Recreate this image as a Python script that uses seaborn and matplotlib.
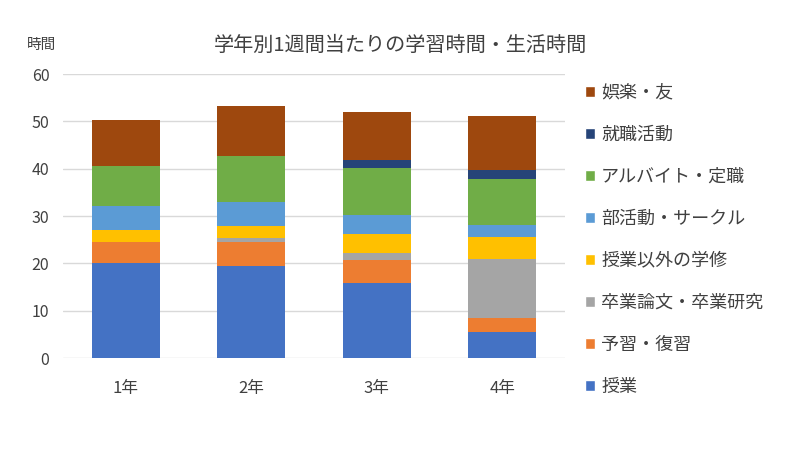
import numpy as np
import pandas as pd
import seaborn as sns
import matplotlib.pyplot as plt
from matplotlib.patches import Patch

# data (hours per week)
grades = ['1年', '2年', '3年', '4年']
jugyo = [20.0, 19.5, 15.8, 5.6]          # 授業
yoshu = [4.6, 5.1, 5.0, 2.9]             # 予習・復習
sotsuron = [0.0, 0.7, 1.3, 12.4]         # 卒業論文・卒業研究
gakushu = [2.4, 2.7, 4.1, 4.7]           # 授業以外の学修
bukatsu = [5.2, 4.9, 4.1, 2.6]           # 部活動・サークル
baito = [8.4, 9.7, 9.9, 9.7]             # アルバイト・定職
shushoku = [0.0, 0.0, 1.7, 1.8]          # 就職活動
goraku = [9.8, 10.6, 10.0, 11.5]         # 娯楽・友

categories = ['授業', '予習・復習', '卒業論文・卒業研究', '授業以外の学修',
              '部活動・サークル', 'アルバイト・定職', '就職活動', '娯楽・友']
colors = ['#4472C4', '#ED7D31', '#A5A5A5', '#FFC000',
          '#5B9BD5', '#70AD47', '#264478', '#9E480E']

df = pd.DataFrame(
    np.array([jugyo, yoshu, sotsuron, gakushu, bukatsu, baito, shushoku, goraku]).T,
    columns=categories)
cum = df[categories].cumsum(axis=1)
cum['grade'] = grades

sns.set_style('white')
plt.rcParams['font.family'] = ['Noto Sans CJK JP', 'DejaVu Sans']

fig = plt.figure(figsize=(8, 4.5), dpi=100)
ax = fig.add_axes([0.079, 0.2044, 0.627, 0.631])

# stacked bars: draw cumulative totals from the top layer down
for cat, col in reversed(list(zip(categories, colors))):
    sns.barplot(data=cum, x='grade', y=cat, color=col, width=0.54,
                saturation=1, linewidth=0, ax=ax, zorder=2)

ax.set_ylim(0, 60)
ax.set_xlim(-0.5, 3.5)
ax.set_yticks(range(0, 61, 10))
ax.yaxis.grid(True, color='#d9d9d9', linewidth=1, zorder=0)
ax.set_axisbelow(True)
for s in ax.spines.values():
    s.set_visible(False)
ax.tick_params(axis='y', length=0, labelsize=11.5, pad=10, colors='#404040')
ax.tick_params(axis='x', length=0, labelsize=12, pad=16, colors='#404040')
ax.set_xlabel('')
ax.set_ylabel('')

fig.text(0.5, 0.9, '学年別1週間当たりの学習時間・生活時間', ha='center', va='center',
         fontsize=14.5, color='#404040')
fig.text(0.034, 0.9, '時間', ha='left', va='center', fontsize=10.5, color='#404040')

handles = [Patch(facecolor=c, label=l) for l, c in zip(categories, colors)][::-1]
fig.legend(handles=handles, loc='upper left', bbox_to_anchor=(0.731, 0.814),
           frameon=False, fontsize=13, handlelength=0.55, handleheight=0.55,
           handletextpad=0.35, labelspacing=1.33, borderpad=0, borderaxespad=0,
           labelcolor='#404040')

fig.savefig('out.png', dpi=100)
